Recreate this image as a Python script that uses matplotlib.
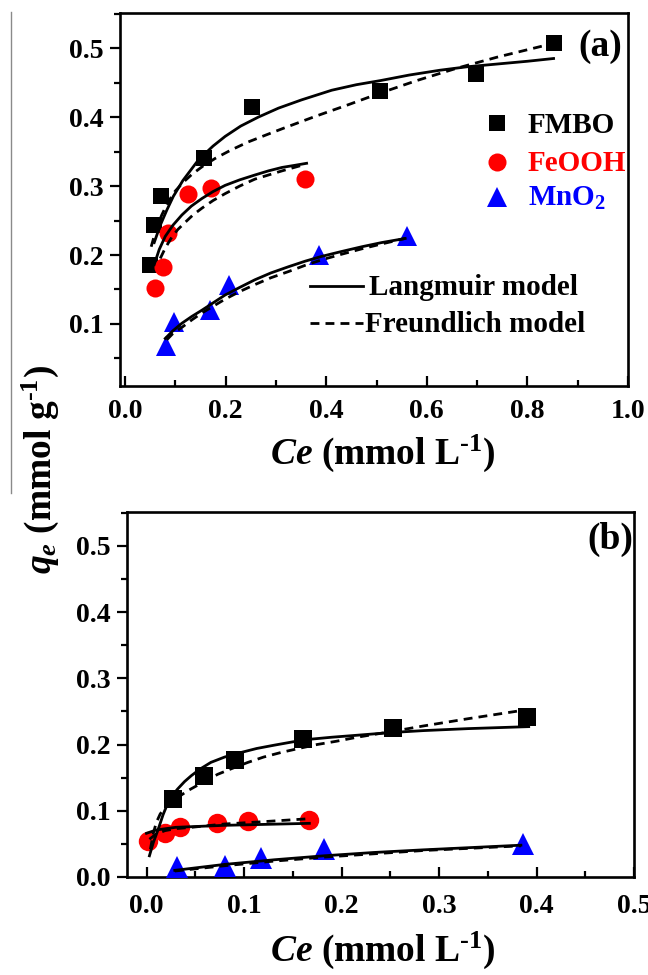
import matplotlib
matplotlib.use('Agg')
import matplotlib.pyplot as plt
from matplotlib.lines import Line2D
from matplotlib.ticker import MultipleLocator, FormatStrFormatter

# ---------------- data: panel (a) ----------------
a_fmbo_x = [0.050, 0.058, 0.072, 0.158, 0.253, 0.507, 0.697, 0.852]
a_fmbo_y = [0.186, 0.243, 0.286, 0.340, 0.415, 0.438, 0.462, 0.507]
a_feooh_x = [0.060, 0.076, 0.085, 0.125, 0.171, 0.358]
a_feooh_y = [0.152, 0.182, 0.232, 0.288, 0.297, 0.310]
a_mno2_x = [0.081, 0.097, 0.169, 0.207, 0.386, 0.560]
a_mno2_y = [0.068, 0.103, 0.120, 0.156, 0.200, 0.227]

a_fmbo_lang_x = [0.058, 0.070, 0.083, 0.096, 0.115, 0.146, 0.175, 0.199, 0.230, 0.265, 0.305,
                 0.351, 0.411, 0.460, 0.508, 0.565, 0.626, 0.680, 0.740, 0.800, 0.852]
a_fmbo_lang_y = [0.218, 0.243, 0.265, 0.285, 0.308, 0.338, 0.358, 0.372, 0.387, 0.400, 0.413,
                 0.425, 0.439, 0.447, 0.453, 0.461, 0.468, 0.473, 0.477, 0.481, 0.485]
a_fmbo_freu_x = [0.052, 0.062, 0.073, 0.085, 0.099, 0.115, 0.133, 0.155, 0.179, 0.210, 0.245,
                 0.280, 0.312, 0.345, 0.378, 0.444, 0.504, 0.580, 0.660, 0.740, 0.852]
a_fmbo_freu_y = [0.212, 0.238, 0.258, 0.276, 0.292, 0.305, 0.317, 0.329, 0.340, 0.352, 0.364,
                 0.374, 0.383, 0.392, 0.401, 0.418, 0.434, 0.453, 0.471, 0.487, 0.507]
a_feooh_lang_x = [0.058, 0.068, 0.080, 0.095, 0.113, 0.132, 0.153, 0.175, 0.199, 0.228, 0.258,
                  0.285, 0.312, 0.337, 0.361]
a_feooh_lang_y = [0.186, 0.208, 0.227, 0.243, 0.258, 0.271, 0.282, 0.292, 0.301, 0.309, 0.316,
                  0.322, 0.327, 0.330, 0.333]
a_feooh_freu_x = [0.070, 0.080, 0.093, 0.105, 0.119, 0.135, 0.153, 0.175, 0.199, 0.228, 0.258,
                  0.285, 0.312, 0.351]
a_feooh_freu_y = [0.195, 0.210, 0.226, 0.237, 0.247, 0.258, 0.268, 0.279, 0.289, 0.300, 0.310,
                  0.316, 0.322, 0.330]
a_mno2_lang_x = [0.080, 0.095, 0.113, 0.133, 0.153, 0.176, 0.199, 0.228, 0.258, 0.290, 0.325,
                 0.358, 0.391, 0.430, 0.471, 0.510, 0.557]
a_mno2_lang_y = [0.079, 0.090, 0.101, 0.111, 0.120, 0.131, 0.142, 0.153, 0.164, 0.174, 0.183,
                 0.191, 0.198, 0.205, 0.212, 0.218, 0.224]
a_mno2_freu_x = [0.083, 0.095, 0.113, 0.133, 0.153, 0.176, 0.199, 0.228, 0.258, 0.290, 0.325,
                 0.358, 0.391, 0.430, 0.471, 0.510, 0.557]
a_mno2_freu_y = [0.077, 0.086, 0.095, 0.106, 0.116, 0.126, 0.136, 0.147, 0.157, 0.167, 0.176,
                 0.185, 0.193, 0.201, 0.209, 0.216, 0.224]

# ---------------- data: panel (b) ----------------
b_fmbo_x = [0.027, 0.059, 0.091, 0.161, 0.253, 0.390]
b_fmbo_y = [0.117, 0.153, 0.177, 0.209, 0.225, 0.241]
b_feooh_x = [0.002, 0.019, 0.034, 0.072, 0.104, 0.167]
b_feooh_y = [0.055, 0.067, 0.075, 0.081, 0.085, 0.086]
b_mno2_x = [0.031, 0.080, 0.117, 0.182, 0.386]
b_mno2_y = [0.015, 0.016, 0.028, 0.043, 0.050]

b_fmbo_lang_x = [0.003, 0.007, 0.012, 0.017, 0.022, 0.027, 0.032, 0.039, 0.046, 0.055, 0.066,
                 0.080, 0.097, 0.113, 0.131, 0.150, 0.168, 0.190, 0.216, 0.250, 0.284, 0.330, 0.392]
b_fmbo_lang_y = [0.032, 0.052, 0.072, 0.094, 0.112, 0.124, 0.133, 0.144, 0.153, 0.163, 0.173,
                 0.181, 0.188, 0.194, 0.199, 0.204, 0.208, 0.211, 0.214, 0.218, 0.221, 0.224, 0.227]
b_fmbo_freu_x = [0.004, 0.007, 0.010, 0.014, 0.019, 0.025, 0.032, 0.042, 0.053, 0.063, 0.073,
                 0.088, 0.104, 0.120, 0.138, 0.156, 0.175, 0.195, 0.216, 0.253, 0.284, 0.330, 0.392]
b_fmbo_freu_y = [0.042, 0.066, 0.082, 0.095, 0.105, 0.113, 0.120, 0.130, 0.139, 0.147, 0.155,
                 0.164, 0.173, 0.181, 0.188, 0.194, 0.200, 0.205, 0.211, 0.220, 0.228, 0.239, 0.253]
b_feooh_lang_x = [0.000, 0.010, 0.030, 0.080, 0.167]
b_feooh_lang_y = [0.066, 0.071, 0.075, 0.078, 0.081]
b_feooh_freu_x = [0.003, 0.010, 0.019, 0.030, 0.046, 0.080, 0.114, 0.167]
b_feooh_freu_y = [0.057, 0.065, 0.070, 0.073, 0.075, 0.080, 0.083, 0.088]
b_mno2_lang_x = [0.029, 0.080, 0.131, 0.182, 0.233, 0.284, 0.384]
b_mno2_lang_y = [0.010, 0.019, 0.026, 0.032, 0.037, 0.041, 0.048]
b_mno2_freu_x = [0.029, 0.080, 0.131, 0.182, 0.233, 0.284, 0.384]
b_mno2_freu_y = [0.009, 0.017, 0.024, 0.030, 0.035, 0.040, 0.047]

legend_names = ['FMBO', 'FeOOH', 'MnO$_\\mathregular{2}$']
model_names = ['Langmuir model', 'Freundlich model']

# ---------------- style ----------------
plt.rcParams.update({
    'font.family': 'Liberation Serif',
    'font.weight': 'bold',
    'mathtext.fontset': 'custom',
    'mathtext.rm': 'Liberation Serif:bold',
    'mathtext.it': 'Liberation Serif:italic:bold',
    'mathtext.bf': 'Liberation Serif:bold',
    'axes.linewidth': 1.9,
})

W, H = 648, 975
fig = plt.figure(figsize=(W / 100, H / 100), dpi=100)


def rect(l, t, r, b):
    return [l / W, 1 - b / H, (r - l) / W, (b - t) / H]


ax1 = fig.add_axes(rect(120, 13, 628, 386))
ax2 = fig.add_axes(rect(127, 512, 634, 877))

BLACK, RED, BLUE = 'black', '#ff0000', '#0000ff'
DASH = (0, (3.2, 2.2))
LW = 2.0


def style(ax, xmaj, xmin, ymaj, ymin, xpad):
    ax.xaxis.set_major_locator(MultipleLocator(xmaj))
    ax.xaxis.set_minor_locator(MultipleLocator(xmin))
    ax.yaxis.set_major_locator(MultipleLocator(ymaj))
    ax.yaxis.set_minor_locator(MultipleLocator(ymin))
    ax.xaxis.set_major_formatter(FormatStrFormatter('%.1f'))
    ax.yaxis.set_major_formatter(FormatStrFormatter('%.1f'))
    ax.tick_params(axis='x', which='both', direction='in', top=False,
                   labelsize=20, pad=xpad, width=1.6)
    ax.tick_params(axis='x', which='major', length=7.5)
    ax.tick_params(axis='x', which='minor', length=4)
    ax.tick_params(axis='y', which='both', direction='out', right=False,
                   labelsize=20, pad=5, width=1.6)
    ax.tick_params(axis='y', which='major', length=7)
    ax.tick_params(axis='y', which='minor', length=4.3)


def draw(ax, pts, lines):
    for (x, y, m, c, ms) in pts:
        ax.plot(x, y, m, color=c, ms=ms, mew=0, ls='none', clip_on=False, zorder=3)
    for (x, y, ls) in lines:
        ax.plot(x, y, color=BLACK, lw=LW, ls=ls, zorder=4)


# ---- panel (a)
draw(ax1,
     [(a_fmbo_x, a_fmbo_y, 's', BLACK, 12),
      (a_feooh_x, a_feooh_y, 'o', RED, 13),
      (a_mno2_x, a_mno2_y, '^', BLUE, 15)],
     [(a_fmbo_lang_x, a_fmbo_lang_y, '-'),
      (a_fmbo_freu_x, a_fmbo_freu_y, DASH),
      (a_feooh_lang_x, a_feooh_lang_y, '-'),
      (a_feooh_freu_x, a_feooh_freu_y, DASH),
      (a_mno2_lang_x, a_mno2_lang_y, '-'),
      (a_mno2_freu_x, a_mno2_freu_y, DASH)])
ax1.set_xlim(-0.01, 1.0)
ax1.set_ylim(0.01, 0.551)
style(ax1, 0.2, 0.1, 0.1, 0.05, 9)

# ---- panel (b)
draw(ax2,
     [(b_fmbo_x, b_fmbo_y, 's', BLACK, 13),
      (b_feooh_x, b_feooh_y, 'o', RED, 14),
      (b_mno2_x, b_mno2_y, '^', BLUE, 16)],
     [(b_fmbo_lang_x, b_fmbo_lang_y, '-'),
      (b_fmbo_freu_x, b_fmbo_freu_y, DASH),
      (b_feooh_lang_x, b_feooh_lang_y, '-'),
      (b_feooh_freu_x, b_feooh_freu_y, DASH),
      (b_mno2_lang_x, b_mno2_lang_y, '-'),
      (b_mno2_freu_x, b_mno2_freu_y, DASH)])
ax2.set_xlim(-0.02, 0.5)
ax2.set_ylim(0.0, 0.551)
style(ax2, 0.1, 0.05, 0.1, 0.05, 12)

# ---- legend of panel (a), drawn by hand in axes fractions
def px2ax(px, py):
    return ((px - 120) / 508, (386 - py) / 373)

leg_items = [('s', BLACK, 12, 123.3), ('o', RED, 13, 161.7), ('^', BLUE, 15, 196.7)]
for (m, c, ms, py), name in zip(leg_items, legend_names):
    mx, my = px2ax(496.7, py)
    ax1.plot([mx], [my], m, color=c, ms=ms, mew=0, transform=ax1.transAxes, clip_on=False)
    tx, ty = px2ax(528, py + 9.5)
    ax1.text(tx, ty, name, color=c, fontsize=21, ha='left', va='baseline',
             transform=ax1.transAxes)

for (ls, py, tstart), name in zip([('-', 286, 369), (DASH, 323.3, 365)], model_names):
    x0, y0 = px2ax(310, py)
    x1, _ = px2ax(363, py)
    ax1.plot([x0, x1], [y0, y0], color=BLACK, lw=LW, ls=ls, transform=ax1.transAxes)
    tx, ty = px2ax(tstart, py + 9)
    ax1.text(tx, ty, name, fontsize=21, ha='left', va='baseline', transform=ax1.transAxes)

# ---- labels (superscript uses a hyphen like the original)
xlab = '$\\mathit{Ce}$ (mmol L$^{\\mathrm{\u2010}1}$)'
fig.text(383 / W, 1 - 453 / H, xlab, ha='center', va='center', fontsize=27)
fig.text(383 / W, 1 - 950 / H, xlab, ha='center', va='center', fontsize=27)
fig.text(40 / W, 1 - 470 / H, '$\\mathit{q_e}$ (mmol g$^{\\mathrm{\u2010}1}$)', rotation=90,
         ha='center', va='center', fontsize=27)
fig.text(600 / W, 1 - 46 / H, '(a)', ha='center', va='center', fontsize=27)
fig.text(610 / W, 1 - 539 / H, '(b)', ha='center', va='center', fontsize=27)

# thin grey line at the left edge (as in the source image)
fig.add_artist(Line2D([11 / W, 11 / W], [1 - 12 / H, 1 - 493 / H], color='#8a8a8a', lw=1.0))

fig.savefig('out.png', dpi=100)
